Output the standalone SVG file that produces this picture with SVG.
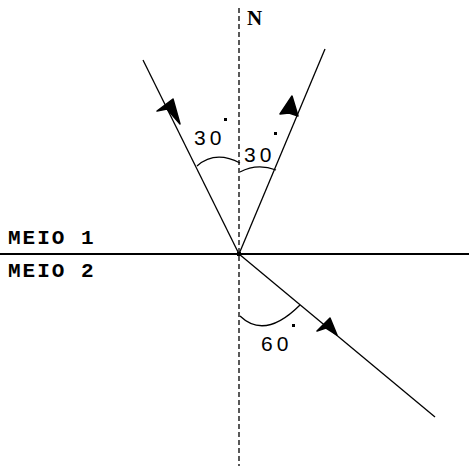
<svg xmlns="http://www.w3.org/2000/svg" width="469" height="466" viewBox="0 0 469 466">
<style>
.ray{stroke:#000;stroke-width:1.3;fill:none}
.arc{stroke:#000;stroke-width:1.3;fill:none}
.head{fill:#000;stroke:#000;stroke-width:1.5;stroke-linejoin:round}
.ang{font-family:"Liberation Sans",Arial,sans-serif;font-size:21px;letter-spacing:4px;fill:#000}
.medium{font-family:"Liberation Mono","Courier New",monospace;font-size:21px;font-weight:bold;letter-spacing:2px;fill:#000}
.deg{fill:#000}
</style>
<rect width="469" height="466" fill="#fff"/>
<g id="connectors">
<line id="normal" x1="239" y1="8" x2="239" y2="466" stroke="#000" stroke-width="1.3" stroke-dasharray="5,3"/>
<line id="interface" x1="0" y1="254" x2="469" y2="254" stroke="#000" stroke-width="2"/>
<line id="incident" class="ray" x1="143" y1="60" x2="239" y2="254"/>
<line id="reflected" class="ray" x1="239" y1="254" x2="325" y2="49"/>
<line id="refracted" class="ray" x1="239" y1="254" x2="435" y2="417"/>
<polygon class="head" points="157,111 173,99 180,124 167,109"/>
<polygon class="head" points="292,96 298,116 289,113 280,114"/>
<polygon class="head" points="317,331 330,318 337,335 326,328"/>
</g>
<g id="center"><rect x="237" y="252" width="4" height="4" fill="#000"/></g>
<g id="arcs">
<path class="arc" d="M197,166 Q215,150 240,163"/>
<path class="arc" d="M240,172 Q257,163 276,170"/>
<path class="arc" d="M240,316 Q265,340 300,305"/>
</g>
<g id="labels">
<text class="ang" x="194" y="145">30</text>
<rect class="deg" x="224" y="118" width="3" height="3"/>
<text class="ang" x="244" y="162">30</text>
<rect class="deg" x="274" y="132" width="3" height="3"/>
<text class="ang" x="261" y="351">60</text>
<rect class="deg" x="292" y="324" width="3" height="3"/>
<text x="247" y="25" font-family="'Liberation Serif','Times New Roman',serif" font-weight="bold" font-size="21" fill="#000">N</text>
<text class="medium" x="8" y="244">MEIO 1</text>
<text class="medium" x="8" y="277">MEIO 2</text>
</g>
</svg>
